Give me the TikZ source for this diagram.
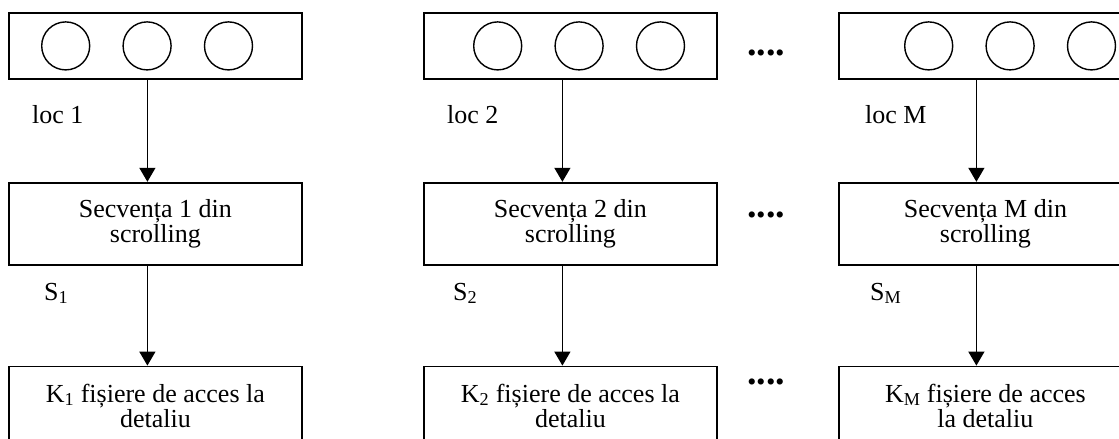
\documentclass[tikz,border=0pt]{standalone}
\usepackage{fontspec}
\setmainfont{Liberation Serif}
\usetikzlibrary{arrows.meta,positioning}

\begin{document}
\begin{tikzpicture}[x=1pt, y=-1pt,
    font=\fontsize{26}{25}\selectfont,
    box/.style={draw, line width=1.8pt, minimum width=293pt, inner sep=0pt, align=center},
    locbox/.style={box, minimum height=66pt},
    seqbox/.style={box, minimum height=82pt},
    filebox/.style={box, minimum height=78pt},
    ball/.style={circle, draw, line width=1.4pt, minimum size=48pt, inner sep=0pt},
    flow/.style={line width=1.4pt, -{Triangle[width=16pt,length=14pt]}},
    lbl/.style={inner sep=0pt},
    gap/.style={font=\fontsize{38}{38}\selectfont\bfseries, inner sep=0pt}
  ]
  \useasboundingbox (0,0) rectangle (1119,439);
  \clip (0,0) rectangle (1119,439);

  % locations
  \node [locbox, anchor=north west] (loc1) at (8,12) {};
  \node [locbox, anchor=north west] (loc2) at (423,12) {};
  \node [locbox, anchor=north west] (locM) at (838,12) {};

  \node [ball, right=33pt of loc1.west] (c11) {};
  \node [ball, right=32pt of c11] (c12) {};
  \node [ball, right=32pt of c12] (c13) {};
  \node [ball, right=50pt of loc2.west] (c21) {};
  \node [ball, right=32pt of c21] (c22) {};
  \node [ball, right=32pt of c22] (c23) {};
  \node [ball, right=66pt of locM.west] (cM1) {};
  \node [ball, right=32pt of cM1] (cM2) {};
  \node [ball, right=32pt of cM2] (cM3) {};

  % scrolling sequences
  \node [seqbox, below=102pt of loc1] (seq1) {Secvența 1 din\\scrolling};
  \node [seqbox, below=102pt of loc2] (seq2) {Secvența 2 din\\scrolling};
  \node [seqbox, below=102pt of locM] (seqM) {Secvența M din\\scrolling};

  % detail files
  \node [filebox, below=100pt of seq1] (file1) {K\textsubscript{1} fișiere de acces la\\detaliu};
  \node [filebox, below=100pt of seq2] (file2) {K\textsubscript{2} fișiere de acces la\\detaliu};
  \node [filebox, below=100pt of seqM] (fileM) {K\textsubscript{M} fișiere de acces\\la detaliu};

  \draw [flow] ([xshift=-8pt]loc1.south) -- ([xshift=-8pt]seq1.north);
  \draw [flow] ([xshift=-8pt]loc2.south) -- ([xshift=-8pt]seq2.north);
  \draw [flow] ([xshift=-9pt]locM.south) -- ([xshift=-9pt]seqM.north);
  \draw [flow] ([xshift=-8pt]seq1.south) -- ([xshift=-8pt]file1.north);
  \draw [flow] ([xshift=-8pt]seq2.south) -- ([xshift=-8pt]file2.north);
  \draw [flow] ([xshift=-9pt]seqM.south) -- ([xshift=-9pt]fileM.north);

  \node [lbl, below right=25pt and 24pt of loc1.south west] (n1) {loc 1};
  \node [lbl, below right=25pt and 24pt of loc2.south west] (n2) {loc 2};
  \node [lbl, below right=25pt and 27pt of locM.south west] (nM) {loc M};
  \node [lbl, below right=17pt and 36pt of seq1.south west] (s1) {S\textsubscript{1}};
  \node [lbl, below right=17pt and 30pt of seq2.south west] (s2) {S\textsubscript{2}};
  \node [lbl, below right=17pt and 32pt of seqM.south west] (sM) {S\textsubscript{M}};

  \node [gap] (g1) at (766,53) {....};
  \node [gap] (g2) at (766,215) {....};
  \node [gap] (g3) at (766,382) {....};
\end{tikzpicture}
\end{document}
